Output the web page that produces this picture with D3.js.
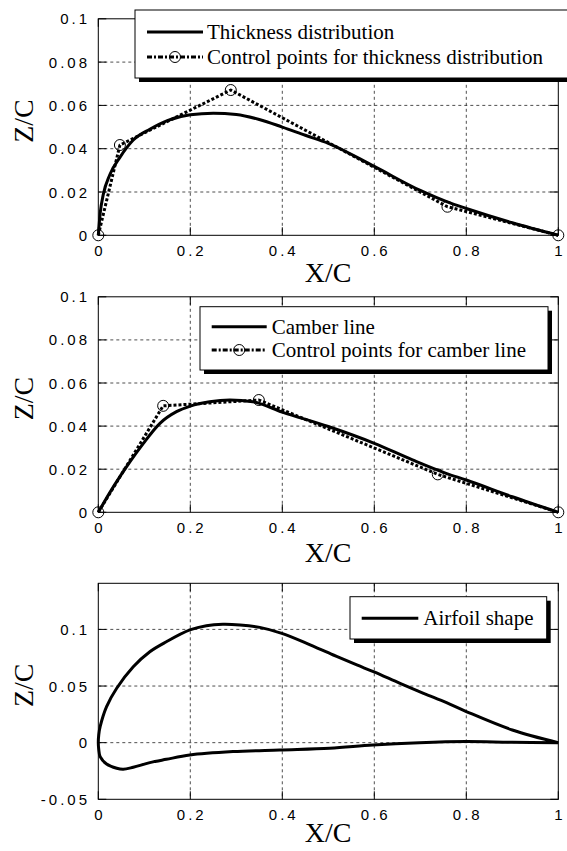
<!DOCTYPE html>
<html>
<head>
<meta charset="utf-8">
<script src="https://cdn.jsdelivr.net/npm/d3@7"></script>
<style>
  body { margin: 0; background: #fff; }
  svg { display: block; }
</style>
</head>
<body>
<svg id="chart"></svg>
<script>
// x axis ticks, shared by all three panels
var xTicks = [0, 0.2, 0.4, 0.6, 0.8, 1];
var xTickLabels = ["0", "0.2", "0.4", "0.6", "0.8", "1"];

// z axis ticks
var zTicks = [0, 0.02, 0.04, 0.06, 0.08, 0.1];
var zTickLabels = ["0", "0.02", "0.04", "0.06", "0.08", "0.1"];
var zTicksAirfoil = [-0.05, 0, 0.05, 0.1];
var zTickLabelsAirfoil = ["-0.05", "0", "0.05", "0.1"];

// thickness distribution
var thickX = [0, 0.004, 0.011, 0.025, 0.047, 0.076, 0.112, 0.15, 0.2, 0.25, 0.3, 0.35, 0.4, 0.45, 0.5, 0.6, 0.7, 0.76, 0.8, 0.9, 1];
var thickZ = [0, 0.010, 0.019, 0.028, 0.036, 0.044, 0.049, 0.053, 0.0557, 0.0564, 0.0558, 0.0535, 0.0500, 0.0462, 0.0425, 0.0318, 0.0207, 0.0153, 0.0124, 0.0058, 0];
var thickCtrlX = [0, 0.047, 0.288, 0.759, 1];
var thickCtrlZ = [0, 0.0417, 0.0671, 0.0132, 0];

// camber line
var camberX = [0, 0.033, 0.069, 0.098, 0.134, 0.17, 0.2, 0.242, 0.286, 0.336, 0.4, 0.5, 0.6, 0.683, 0.756, 0.8, 0.9, 1];
var camberZ = [0, 0.0119, 0.0235, 0.032, 0.0413, 0.0467, 0.0493, 0.0513, 0.0521, 0.0513, 0.0465, 0.0398, 0.032, 0.0243, 0.0181, 0.015, 0.0072, 0];
var camberCtrlX = [0, 0.141, 0.349, 0.738, 1];
var camberCtrlZ = [0, 0.0494, 0.0521, 0.0176, 0];

// airfoil shape, upper and lower surfaces from leading edge
var upperX = [0, 0.001, 0.004, 0.018, 0.04, 0.076, 0.112, 0.148, 0.199, 0.235, 0.271, 0.308, 0.351, 0.399, 0.453, 0.511, 0.562, 0.598, 0.656, 0.707, 0.757, 0.8, 0.9, 1];
var upperZ = [0, 0.007, 0.0141, 0.0318, 0.048, 0.067, 0.0803, 0.0891, 0.0995, 0.1033, 0.1045, 0.1039, 0.1018, 0.0965, 0.0877, 0.0774, 0.0686, 0.0627, 0.0524, 0.0436, 0.0353, 0.0275, 0.0112, 0];
var lowerX = [0, 0.001, 0.004, 0.018, 0.04, 0.054, 0.076, 0.112, 0.148, 0.199, 0.293, 0.394, 0.503, 0.597, 0.698, 0.8, 0.9, 1];
var lowerZ = [0, -0.006, -0.0124, -0.0188, -0.0226, -0.0235, -0.0217, -0.0176, -0.0147, -0.0109, -0.0079, -0.0064, -0.0049, -0.002, 0, 0.001, 0.0003, 0];

var W = 567, H = 851;
var svg = d3.select("#chart").attr("width", W).attr("height", H);

var sans = "'Liberation Sans', Arial, sans-serif";
var serif = "'Liberation Serif', 'Times New Roman', serif";

function pts(xs, zs) { return d3.zip(xs, zs); }

var airfoil = pts(upperX, upperZ).reverse().concat(pts(lowerX, lowerZ).slice(1));

var panels = [
  {
    top: 18.8, bottom: 235.3, domain: [0, 0.1],
    ticks: zTicks, labels: zTickLabels, xLabelY: 282,
    series: [
      { data: pts(thickX, thickZ), dashed: false, curve: d3.curveMonotoneX, name: "Thickness distribution" },
      { data: pts(thickCtrlX, thickCtrlZ), dashed: true, curve: d3.curveLinear, name: "Control points for thickness distribution" }
    ],
    legend: { x: 135, y: 10, w: 436, h: 68, rows: [32, 57], x1: 147, x2: 203, tx: 207 }
  },
  {
    top: 296.8, bottom: 512.3, domain: [0, 0.1],
    ticks: zTicks, labels: zTickLabels, xLabelY: 561.7,
    series: [
      { data: pts(camberX, camberZ), dashed: false, curve: d3.curveMonotoneX, name: "Camber line" },
      { data: pts(camberCtrlX, camberCtrlZ), dashed: true, curve: d3.curveLinear, name: "Control points for camber line" }
    ],
    legend: { x: 200, y: 306.7, w: 348, h: 63.3, rows: [326.7, 350], x1: 211.7, x2: 266.7, tx: 271.7 }
  },
  {
    top: 583.3, bottom: 799.3, domain: [-0.05, 0.1407],
    ticks: zTicksAirfoil, labels: zTickLabelsAirfoil, xLabelY: 841.7,
    series: [
      { data: airfoil, dashed: false, curve: d3.curveCatmullRom, name: "Airfoil shape" }
    ],
    legend: { x: 350, y: 596.7, w: 196.7, h: 42.3, rows: [618.3], x1: 361.7, x2: 418.3, tx: 423.3 }
  }
];

var x = d3.scaleLinear().domain([0, 1]).range([98.3, 558.3]);

panels.forEach(function (p) {
  var y = d3.scaleLinear().domain(p.domain).range([p.bottom, p.top]);
  var g = svg.append("g");

  // dashed grid
  g.selectAll(".vgrid")
    .data(xTicks.slice(1, -1))
    .enter().append("line")
    .attr("x1", function (d) { return x(d); }).attr("x2", function (d) { return x(d); })
    .attr("y1", p.top).attr("y2", p.bottom)
    .attr("stroke", "#222").attr("stroke-width", 0.8).attr("stroke-dasharray", "3,3");
  g.selectAll(".hgrid")
    .data(p.ticks.filter(function (d) { return y(d) > p.top + 1 && y(d) < p.bottom - 1; }))
    .enter().append("line")
    .attr("x1", x(0)).attr("x2", x(1))
    .attr("y1", function (d) { return y(d); }).attr("y2", function (d) { return y(d); })
    .attr("stroke", "#222").attr("stroke-width", 0.8).attr("stroke-dasharray", "3,3");

  // inward ticks on all four sides
  [p.bottom, p.top].forEach(function (yy, i) {
    g.selectAll(null).data(xTicks).enter().append("line")
      .attr("x1", function (d) { return x(d); }).attr("x2", function (d) { return x(d); })
      .attr("y1", yy).attr("y2", i === 0 ? yy - 8 : yy + 8)
      .attr("stroke", "#000").attr("stroke-width", 1);
  });
  [x(0), x(1)].forEach(function (xx, i) {
    g.selectAll(null).data(p.ticks).enter().append("line")
      .attr("y1", function (d) { return y(d); }).attr("y2", function (d) { return y(d); })
      .attr("x1", xx).attr("x2", i === 0 ? xx + 8 : xx - 8)
      .attr("stroke", "#000").attr("stroke-width", 1);
  });

  // frame
  g.append("rect")
    .attr("x", x(0)).attr("y", p.top)
    .attr("width", x(1) - x(0)).attr("height", p.bottom - p.top)
    .attr("fill", "none").attr("stroke", "#000").attr("stroke-width", 1);

  // tick labels
  g.selectAll(".xlab").data(xTicks).enter().append("text")
    .attr("x", function (d) { return x(d) + 1.5; })
    .attr("y", p.bottom + 20.5)
    .attr("text-anchor", "middle")
    .style("font-family", sans).style("font-size", "15px").style("letter-spacing", "3px")
    .text(function (d, i) { return xTickLabels[i]; });
  g.selectAll(".ylab").data(p.ticks).enter().append("text")
    .attr("x", 90)
    .attr("y", function (d) { return y(d) + 5.5; })
    .attr("text-anchor", "end")
    .style("font-family", sans).style("font-size", "15px").style("letter-spacing", "3px")
    .text(function (d, i) { return p.labels[i]; });

  // axis titles
  g.append("text")
    .attr("x", 328).attr("y", p.xLabelY)
    .attr("text-anchor", "middle")
    .style("font-family", serif).style("font-size", "28px")
    .text("X/C");
  g.append("text")
    .attr("transform", "translate(33," + ((p.top + p.bottom) / 2 - 6) + ") rotate(-90)")
    .attr("text-anchor", "middle")
    .style("font-family", serif).style("font-size", "28px")
    .text("Z/C");

  // series
  p.series.forEach(function (s) {
    var line = d3.line()
      .x(function (d) { return x(d[0]); })
      .y(function (d) { return y(d[1]); })
      .curve(s.curve);
    g.append("path")
      .datum(s.data)
      .attr("d", line)
      .attr("fill", "none")
      .attr("stroke", "#000")
      .attr("stroke-width", 3)
      .attr("stroke-linejoin", "round")
      .attr("stroke-dasharray", s.dashed ? "3,2" : null);
    if (s.dashed) {
      g.selectAll(null).data(s.data).enter().append("circle")
        .attr("cx", function (d) { return x(d[0]); })
        .attr("cy", function (d) { return y(d[1]); })
        .attr("r", 5.5)
        .attr("fill", "none").attr("stroke", "#000").attr("stroke-width", 1);
    }
  });

  // legend with drop shadow
  var L = p.legend;
  g.append("rect")
    .attr("x", L.x + 4).attr("y", L.y + 4).attr("width", L.w).attr("height", L.h)
    .attr("fill", "#000");
  g.append("rect")
    .attr("x", L.x).attr("y", L.y).attr("width", L.w).attr("height", L.h)
    .attr("fill", "#fff").attr("stroke", "#000").attr("stroke-width", 1);
  p.series.forEach(function (s, i) {
    var ry = L.rows[i];
    g.append("line")
      .attr("x1", L.x1).attr("x2", L.x2).attr("y1", ry).attr("y2", ry)
      .attr("stroke", "#000").attr("stroke-width", 3)
      .attr("stroke-dasharray", s.dashed ? "5,2,2,2" : null);
    if (s.dashed) {
      g.append("circle")
        .attr("cx", (L.x1 + L.x2) / 2).attr("cy", ry).attr("r", 5.5)
        .attr("fill", "none").attr("stroke", "#000").attr("stroke-width", 1);
    }
    g.append("text")
      .attr("x", L.tx).attr("y", ry + 7)
      .style("font-family", serif).style("font-size", "21px")
      .text(s.name);
  });
});
</script>
</body>
</html>
